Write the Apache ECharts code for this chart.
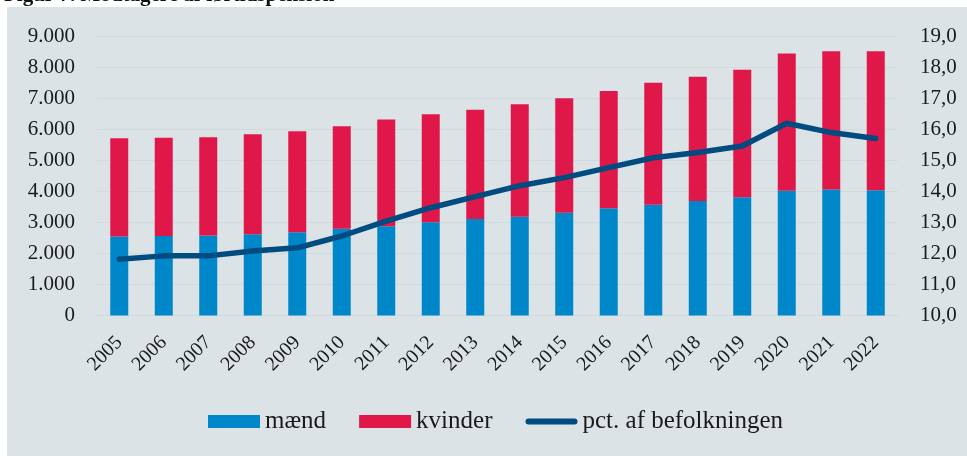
<!DOCTYPE html>
<html>
<head>
<meta charset="utf-8">
<script src="https://cdn.jsdelivr.net/npm/echarts@6/dist/echarts.min.js"></script>
<style>
html,body{margin:0;padding:0;background:#ffffff;}
#wrap{position:relative;width:967px;height:456px;overflow:hidden;}
#bg{position:absolute;left:7px;top:7px;width:960px;height:449px;background:#dce3e6;}
#chart{position:absolute;left:0;top:0;width:967px;height:456px;}
</style>
</head>
<body>
<div id="wrap"><div id="bg"></div><div id="chart"></div></div>
<script>
const titleText = 'Figur 7. Modtagere af førtidspension';
const years = ['2005','2006','2007','2008','2009','2010','2011','2012','2013','2014','2015','2016','2017','2018','2019','2020','2021','2022'];
const maend = [2540, 2560, 2580, 2620, 2680, 2790, 2870, 3000, 3110, 3180, 3310, 3450, 3570, 3690, 3810, 4020, 4060, 4030];
const kvinder = [3170, 3165, 3160, 3215, 3250, 3300, 3445, 3480, 3515, 3620, 3685, 3780, 3925, 4000, 4105, 4420, 4445, 4475];
const pct = [11.81, 11.92, 11.92, 12.08, 12.18, 12.56, 13.04, 13.47, 13.83, 14.18, 14.44, 14.76, 15.08, 15.25, 15.46, 16.19, 15.89, 15.70];
const seriesNames = ['mænd', 'kvinder', 'pct. af befolkningen'];

const FONT = 'Liberation Serif';
const TXT = '#1a1a1a';
const LINE_ICON = 'path://M0,0 M52,13 M3,3.5 L49,3.5 A3,3 0 0 1 49,9.5 L3,9.5 A3,3 0 0 1 3,3.5 Z';
const chart = echarts.init(document.getElementById('chart'), null, {renderer: 'canvas'});
chart.setOption({
  backgroundColor: 'transparent',
  animation: false,
  textStyle: {fontFamily: FONT},
  graphic: [{
    type: 'text', left: 4, top: -15,
    style: {text: titleText, font: 'bold 21px "Liberation Serif"', fill: '#111'}
  }],
  grid: {left: 97, right: 69, top: 36, bottom: 140.5, containLabel: false},
  legend: {
    left: 203, top: 404,
    itemWidth: 52, itemHeight: 13, itemGap: 33,
    textStyle: {fontFamily: FONT, fontSize: 25, color: TXT},
    data: [
      {name: seriesNames[0], icon: 'rect'},
      {name: seriesNames[1], icon: 'rect'},
      {name: seriesNames[2], icon: LINE_ICON, itemStyle: {color: '#004b80'}}
    ]
  },
  xAxis: {
    type: 'category', data: years,
    axisTick: {show: false},
    axisLine: {show: true, lineStyle: {color: '#cfd8db', width: 1}},
    axisLabel: {rotate: 45, margin: 24, fontFamily: FONT, fontSize: 20, color: TXT}
  },
  yAxis: [{
    type: 'value', min: 0, max: 9000, interval: 1000,
    axisLine: {show: false}, axisTick: {show: false},
    splitLine: {lineStyle: {color: '#d1dadd', width: 1}},
    axisLabel: {margin: 22, fontFamily: FONT, fontSize: 21, color: TXT,
      formatter: v => v === 0 ? '0' : String(v).replace(/\B(?=(\d{3})+(?!\d))/g, '.')}
  }, {
    type: 'value', min: 10, max: 19, interval: 1,
    axisLine: {show: false}, axisTick: {show: false},
    splitLine: {show: false},
    axisLabel: {margin: 22, fontFamily: FONT, fontSize: 21, color: TXT,
      formatter: v => v.toFixed(1).replace('.', ',')}
  }],
  series: [{
    name: seriesNames[0], type: 'bar', stack: 'a', data: maend, barWidth: 18,
    itemStyle: {color: '#0087c9'}
  }, {
    name: seriesNames[1], type: 'bar', stack: 'a', data: kvinder, barWidth: 18,
    itemStyle: {color: '#e0184a'}
  }, {
    name: seriesNames[2], type: 'line', yAxisIndex: 1, data: pct,
    symbol: 'none', showSymbol: false,
    lineStyle: {color: '#004b80', width: 5.5, cap: 'round', join: 'round'},
    itemStyle: {color: '#004b80'}
  }]
});
</script>
</body>
</html>
